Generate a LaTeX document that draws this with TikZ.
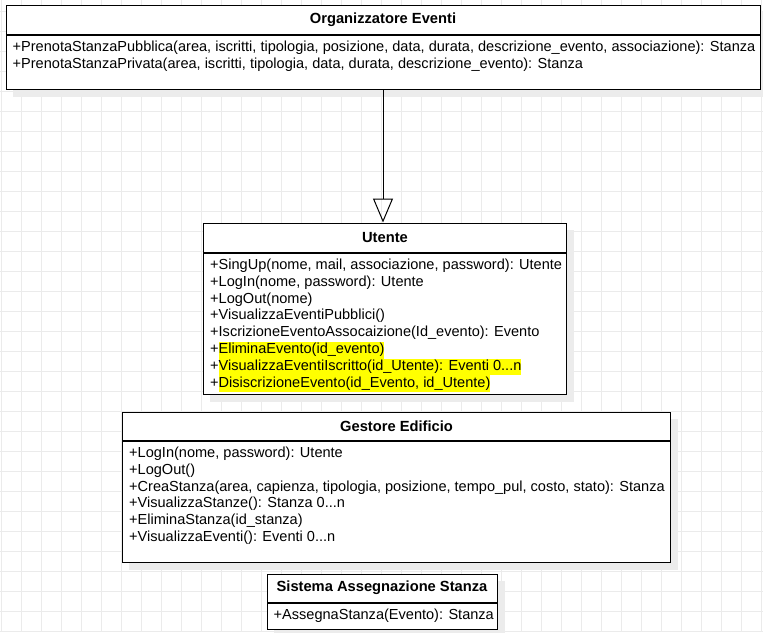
\documentclass[tikz,border=0pt]{standalone}
\usepackage{fontspec}
\setmainfont{Liberation Sans}
\usepackage{tikz}
\usetikzlibrary{positioning,arrows.meta,backgrounds}
\definecolor{gridc}{RGB}{235,235,235}
\definecolor{shadowc}{RGB}{236,236,236}
\definecolor{hl}{RGB}{255,255,0}
\newcommand{\hlt}[1]{{\setlength{\fboxsep}{0pt}\colorbox{hl}{\strut#1}}}
\tikzset{
  hd/.style={draw, line width=1pt, fill=white, inner sep=0pt, font=\fontsize{14.7}{16.8}\selectfont\bfseries},
  bd/.style={draw, line width=1pt, fill=white, inner sep=0pt},
  txt/.style={inner sep=0pt, align=left, anchor=north west, font=\fontsize{14.55}{16.8}\selectfont},
  inh/.style={line width=1pt, -{Triangle[open, length=24pt, width=20pt]}},
  shd/.style={fill=shadowc}
}
\begin{document}
\begin{tikzpicture}[x=1pt, y=-1pt]
        \useasboundingbox (0,0) rectangle (763,632);
        \begin{pgfonlayer}{background}
        \fill[white] (0,0) rectangle (763,632);
        \foreach \gx in {1,21,...,761} \draw[gridc, line width=0.8pt] (\gx,0) -- (\gx,632);
        \foreach \gy in {11,31,...,631} \draw[gridc, line width=0.8pt] (0,\gy) -- (763,\gy);
        \end{pgfonlayer}

        % Organizzatore Eventi
        \node[hd, minimum width=754pt, minimum height=29pt](org)at(383, 20){Organizzatore Eventi};
        \node[bd, minimum width=754pt, minimum height=53.5pt, below=0pt of org](orgb){};
        \node[txt, below right=5pt and 7pt of orgb.north west](orgt){\strut+PrenotaStanzaPubblica(area, iscritti, tipologia, posizione, data, durata, descrizione\_evento, associazione): Stanza\\
          +PrenotaStanzaPrivata(area, iscritti, tipologia, data, durata, descrizione\_evento): Stanza};

        % Utente
        \node[hd, minimum width=363pt, minimum height=29pt](ut)at(385, 237.5){Utente};
        \node[bd, minimum width=363pt, minimum height=141pt, below=0pt of ut](utb){};
        \node[txt, below right=5pt and 7pt of utb.north west](utt){\strut+SingUp(nome, mail, associazione, password): Utente\\
          +LogIn(nome, password): Utente\\
          +LogOut(nome)\\
          +VisualizzaEventiPubblici()\\
          +IscrizioneEventoAssocaizione(Id\_evento): Evento\\
          +\hlt{EliminaEvento(id\_evento)}\\
          +\hlt{VisualizzaEventiIscritto(id\_Utente): Eventi 0...n}\\
          +\hlt{DisiscrizioneEvento(id\_Evento, id\_Utente)}};

        % Gestore Edificio
        \node[hd, minimum width=548pt, minimum height=28pt](ge)at(396.5, 426){Gestore Edificio};
        \node[bd, minimum width=548pt, minimum height=121pt, below=0pt of ge](geb){};
        \node[txt, below right=5pt and 7pt of geb.north west](get){\strut+LogIn(nome, password): Utente\\
          +LogOut()\\
          +CreaStanza(area, capienza, tipologia, posizione, tempo\_pul, costo, stato): Stanza\\
          +VisualizzaStanze(): Stanza 0...n\\
          +EliminaStanza(id\_stanza)\\
          +VisualizzaEventi(): Eventi 0...n};

        % Sistema Assegnazione Stanza
        \node[hd, minimum width=230pt, minimum height=28pt](sa)at(382, 588){Sistema Assegnazione Stanza};
        \node[bd, minimum width=230pt, minimum height=26pt, below=0pt of sa](sab){};
        \node[txt, below right=5pt and 7pt of sab.north west](sat){\strut+AssegnaStanza(Evento): Stanza};

        \begin{pgfonlayer}{background}
        \foreach \c in {org,ut,ge,sa}
          \fill[shd] ([shift={(7pt,-7pt)}]\c.north west) rectangle ([shift={(7pt,-7pt)}]\c b.south east);
        \end{pgfonlayer}

        \draw[inh](orgb.south)--(orgb.south |- ut.north);
    \end{tikzpicture}
\end{document}
